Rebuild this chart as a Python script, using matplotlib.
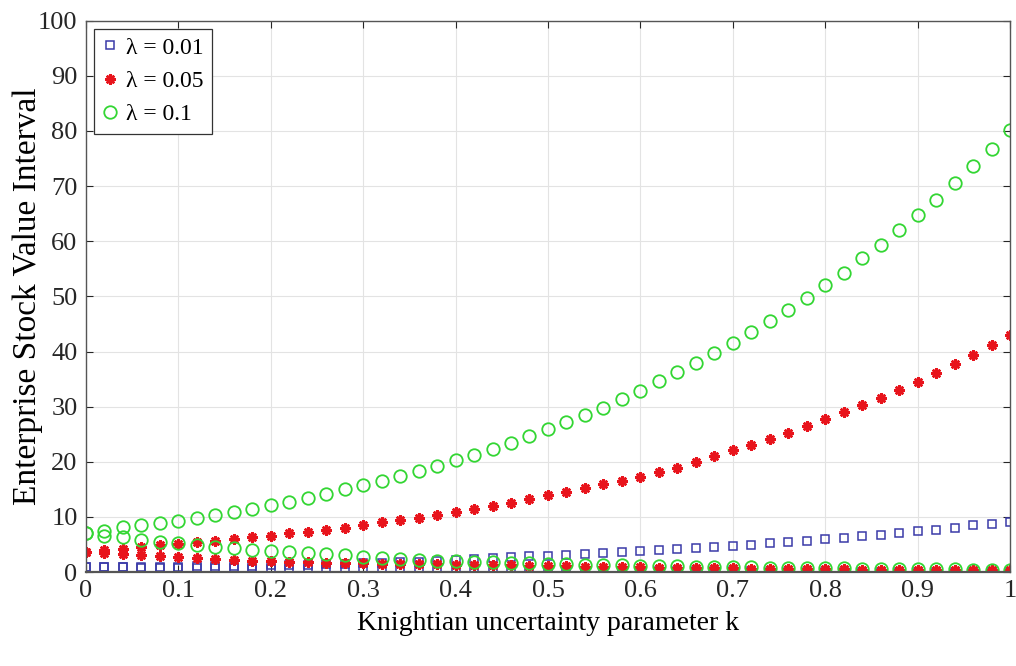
import numpy as np
import matplotlib.pyplot as plt
from matplotlib.lines import Line2D

plt.rcParams['font.family'] = ['Liberation Serif', 'DejaVu Serif']

# Knightian uncertainty parameter, step 0.02
k = np.linspace(0, 1, 51)

# lambda = 0.01 (upper / lower bound of the value interval)
blue_up = [0.9, 0.92, 0.94, 0.96, 0.98, 1.0, 1.04, 1.08, 1.13, 1.18,
           1.24, 1.3, 1.37, 1.44, 1.52, 1.6, 1.69, 1.79, 1.9, 2.02,
           2.2, 2.4, 2.55, 2.7, 2.85, 3.0, 3.15, 3.3, 3.45, 3.65,
           3.85, 4.05, 4.2, 4.38, 4.57, 4.8, 5.0, 5.25, 5.45, 5.7,
           5.95, 6.2, 6.5, 6.8, 7.1, 7.4, 7.7, 8.05, 8.45, 8.75, 9.05]
blue_lo = [0.9, 0.88, 0.85, 0.83, 0.8, 0.77, 0.74, 0.71, 0.68, 0.65,
           0.62, 0.59, 0.56, 0.53, 0.5, 0.47, 0.44, 0.41, 0.38, 0.35,
           0.33, 0.31, 0.29, 0.27, 0.25, 0.23, 0.21, 0.2, 0.19, 0.18,
           0.17, 0.16, 0.15, 0.14, 0.13, 0.12, 0.11, 0.1, 0.1, 0.09,
           0.09, 0.08, 0.08, 0.07, 0.07, 0.06, 0.06, 0.06, 0.05, 0.05, 0.05]

# lambda = 0.05
red_up = [3.7, 4.0, 4.25, 4.55, 4.85, 5.15, 5.4, 5.7, 6.05, 6.35,
          6.6, 7.0, 7.3, 7.7, 8.05, 8.55, 9.0, 9.4, 9.8, 10.4,
          10.9, 11.4, 12.0, 12.6, 13.2, 13.9, 14.6, 15.3, 16.0, 16.6,
          17.3, 18.1, 18.9, 19.9, 21.0, 22.1, 23.1, 24.2, 25.3, 26.5,
          27.8, 29.1, 30.3, 31.6, 33.0, 34.5, 36.1, 37.7, 39.4, 41.2, 43.0]
red_lo = [3.7, 3.4, 3.3, 3.1, 2.9, 2.65, 2.5, 2.35, 2.2, 2.05,
          1.95, 1.85, 1.78, 1.7, 1.65, 1.6, 1.55, 1.5, 1.45, 1.4,
          1.35, 1.3, 1.25, 1.2, 1.15, 1.1, 1.05, 1.0, 0.95, 0.9,
          0.86, 0.82, 0.78, 0.74, 0.7, 0.66, 0.63, 0.6, 0.57, 0.54,
          0.51, 0.49, 0.47, 0.45, 0.43, 0.41, 0.39, 0.37, 0.35, 0.34, 0.33]

# lambda = 0.1
green_up = [7.0, 7.5, 8.1, 8.5, 8.9, 9.3, 9.9, 10.4, 10.9, 11.4,
            12.1, 12.7, 13.5, 14.2, 15.0, 15.8, 16.6, 17.45, 18.4, 19.3,
            20.3, 21.3, 22.4, 23.5, 24.7, 25.9, 27.2, 28.5, 29.8, 31.3,
            32.9, 34.6, 36.2, 37.9, 39.7, 41.5, 43.5, 45.5, 47.5, 49.7,
            52.0, 54.3, 56.9, 59.4, 62.0, 64.7, 67.5, 70.5, 73.6, 76.8, 80.2]
green_lo = [7.0, 6.5, 6.3, 5.9, 5.5, 5.2, 4.9, 4.6, 4.3, 4.05,
            3.85, 3.67, 3.49, 3.25, 3.07, 2.8, 2.6, 2.4, 2.2, 2.05,
            1.95, 1.85, 1.75, 1.65, 1.56, 1.48, 1.4, 1.33, 1.26, 1.2,
            1.14, 1.08, 1.03, 0.98, 0.93, 0.88, 0.84, 0.8, 0.76, 0.72,
            0.69, 0.66, 0.63, 0.6, 0.57, 0.54, 0.52, 0.49, 0.47, 0.45, 0.43]

labels = ['λ = 0.01', 'λ = 0.05', 'λ = 0.1']

blue = '#3a3aa8'
red = '#e8141c'
green = '#33d633'

fig = plt.figure(figsize=(10.16, 6.66), dpi=100)
ax = fig.add_axes([0.0846, 0.141, 0.9095, 0.828])

sq = dict(marker='s', ms=5.8, mfc='none', mec=blue, mew=1.1, ls='none')
st = dict(marker=(8, 2, 0), ms=7.5, color=red, mec=red, mew=1.8, ls='none')
ci = dict(marker='o', ms=9, mfc='none', mec=green, mew=1.3, ls='none')

ax.plot(k, blue_up, **sq)
ax.plot(k, blue_lo, **sq)
ax.plot(k, red_up, **st)
ax.plot(k, red_lo, **st)
ax.plot(k, green_up, **ci)
ax.plot(k, green_lo, **ci)

ax.set_xlim(0, 1)
ax.set_ylim(0, 100)
ax.set_xticks(np.arange(0, 1.01, 0.1))
ax.set_xticklabels(['0', '0.1', '0.2', '0.3', '0.4', '0.5', '0.6', '0.7', '0.8', '0.9', '1'])
ax.set_yticks(np.arange(0, 101, 10))
ax.grid(True, color='#e3e3e3', lw=0.8)
ax.set_axisbelow(True)
ax.tick_params(direction='in', top=True, right=True, length=5, width=0.8,
               labelsize=19, colors='#262626', pad=6)
for sp in ax.spines.values():
    sp.set_color('#555555')
    sp.set_linewidth(1.0)
ax.spines['bottom'].set_linewidth(1.6)

ax.set_xlabel('Knightian uncertainty parameter k', fontsize=20, labelpad=6)
ax.set_ylabel('Enterprise Stock Value Interval', fontsize=24)
ax.yaxis.set_label_coords(-0.046, 0.5)

handles = [Line2D([], [], **sq), Line2D([], [], **st), Line2D([], [], **ci)]
leg = ax.legend(handles, labels, loc='upper left', fontsize=17, frameon=True,
                fancybox=False, edgecolor='#333333', framealpha=1,
                handlelength=0.6, handletextpad=0.4, borderpad=0.35,
                labelspacing=0.5, borderaxespad=0.35)
leg.get_frame().set_linewidth(0.9)

plt.savefig('out.png', dpi=100)
